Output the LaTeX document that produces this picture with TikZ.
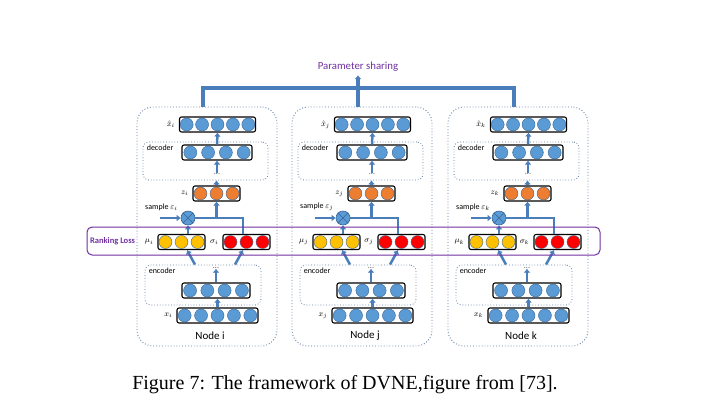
\documentclass[tikz,border=0pt]{standalone}
\usepackage{fontspec}
\newfontfamily\carlito{Carlito}
\newfontfamily\timesfont{Liberation Serif}
\usepackage{tikz}
\usetikzlibrary{arrows.meta,calc,positioning,shapes}
\definecolor{flowblue}{RGB}{74,126,187}
\definecolor{ublue}{RGB}{91,155,213}
\definecolor{unitline}{RGB}{55,100,150}
\definecolor{uorange}{RGB}{237,125,49}
\definecolor{uyellow}{RGB}{255,192,0}
\definecolor{ured}{RGB}{255,0,0}
\definecolor{purp}{RGB}{112,48,160}
\definecolor{boxline}{RGB}{95,125,165}
\tikzstyle{layer} = [rectangle,draw=black,rounded corners=2,line width=1.1,minimum height=15,inner sep=0]
\tikzstyle{unit} = [circle,draw=unitline,line width=0.4,minimum size=13,inner sep=0]
\tikzstyle{part} = [rectangle,draw=boxline,dotted,rounded corners=6,line width=0.8]
\tikzstyle{nodebox} = [rectangle,draw=boxline,dotted,rounded corners=16,line width=0.9]
\tikzstyle{lab} = [font=\carlito\fontsize{8}{9}\selectfont,inner sep=1]
\tikzstyle{dots} = [font=\carlito\fontsize{8}{8}\selectfont,inner sep=0,text=black!70]
\tikzstyle{flow} = [draw=flowblue,line width=2.5]
\tikzstyle{share} = [draw=flowblue,line width=3.5]
\tikzstyle{mul} = [circle,fill=ublue,draw=unitline,line width=0.6,minimum size=14,inner sep=0]
% circles of one layer, spread over the box
\newcommand{\units}[3]{\foreach \u in {1,...,#2}
  \node[unit,fill=#3] (#1-\u) at ($(#1.west)!{(\u-0.5)/#2}!(#1.east)$) {};}

\begin{document}
\begin{tikzpicture}[x=1pt,y=-1pt,>={Latex[length=4pt,width=7pt]}]
  \useasboundingbox (0,0) rectangle (717,402);
  \foreach \n/\x in {i/137,j/292,k/448}{
    \begin{scope}[xshift=\x]
      \node[nodebox,minimum width=140,minimum height=239] (col\n) at (70,226.5) {};
      \coordinate (ps\n) at (66,88);
      % decoder side
      \node[layer,minimum width=76] (xh\n) at (80.5,124.5) {};
      \node[lab,left=3pt of xh\n] (xhl\n) {$\hat{x}_\n$};
      \node[part,minimum width=125,minimum height=38] (dec\n) at (68.5,161) {};
      \node[lab,anchor=north west] (decl\n) at ([shift={(3pt,-2pt)}]dec\n.north west) {decoder};
      \node[layer,minimum width=70] (decin\n) at (80,152.5) {};
      \node[dots] (ddots\n) at (80,174) {...};
      \node[layer,minimum width=47] (z\n) at (79.5,193.5) {};
      \node[lab,left=3pt of z\n] (zl\n) {$z_\n$};
      % sampling
      \node[mul] (mul\n) at (51,218) {};
      \coordinate (in\n) at (23,218);
      \node[lab,anchor=west] (smp\n) at (7,207) {sample $\varepsilon_\n$};
      \node[layer,minimum width=47] (mu\n) at (44.5,242) {};
      \node[lab,left=3pt of mu\n] (mul\n l) {$\mu_\n$};
      \node[layer,minimum width=47] (sig\n) at (109.5,242) {};
      \node[lab,left=3pt of sig\n] (sigl\n) {$\sigma_\n$};
      % encoder side
      \node[part,minimum width=116,minimum height=40] (enc\n) at (66,285) {};
      \node[lab,anchor=north west] (encl\n) at ([shift={(3pt,-2pt)}]enc\n.north west) {encoder};
      \node[dots] (edots\n) at (79,268) {...};
      \node[layer,minimum width=68] (encin\n) at (79,290.5) {};
      \node[layer,minimum width=81] (x\n) at (80.5,315.5) {};
      \node[lab,left=3pt of x\n] (xl\n) {$x_\n$};
      \node[font=\carlito\fontsize{11}{13}\selectfont] (name\n) at (73,336) {Node \n};
      \units{xh\n}{5}{ublue}
      \units{decin\n}{4}{ublue}
      \units{z\n}{3}{uorange}
      \units{mu\n}{3}{uyellow}
      \units{sig\n}{3}{ured}
      \units{encin\n}{4}{ublue}
      \units{x\n}{5}{ublue}
      % flow
      \draw[flow,->] (x\n.north) -- (x\n.north |- encin\n.south);
      \draw[flow,->] (encin\n.north) -- (edots\n);
      \draw[flow,->] ([xshift=-8pt]enc\n.north) -- ([xshift=5.5pt]mu\n.south);
      \draw[flow,->] ([xshift=32pt]enc\n.north) -- ([xshift=-3.5pt]sig\n.south);
      \draw[flow,->] (in\n) -- (mul\n);
      \draw[flow,->] (mu\n.north -| mul\n) -- (mul\n);
      \draw[flow] (mul\n.east) -| ([xshift=-3.5pt]sig\n.north);
      \draw[flow,->] (z\n |- mul\n) -- (z\n.south);
      \draw[unitline,line width=0.6] (mul\n.north east) -- (mul\n.south west)
        (mul\n.north west) -- (mul\n.south east);
      \draw[flow,->] (z\n.north) -- (z\n.north |- dec\n.south);
      \draw[flow,->] (ddots\n.north) -- (decin\n.south);
      \draw[flow,->] (decin\n.north) -- (xh\n.south);
    \end{scope}
  }
  \node[font=\carlito\fontsize{10.8}{12}\selectfont,text=purp] (sharing) at (358,67) {Parameter sharing};
  \draw[share] (coli.north -| psi) |- (psj) -| (colk.north -| psk);
  \draw[share] (colj.north -| psj) -- (psj);
  \draw[share,->] (psj) -- (sharing);
  \node[draw=purp,rounded corners=5,line width=1,minimum width=513,minimum height=28] (rank) at (343.5,241) {};
  \node[font=\carlito\bfseries\fontsize{8.5}{9}\selectfont,text=purp,anchor=west] (rankl) at (rank.west) {Ranking Loss};
  \node[font=\timesfont\fontsize{20}{24}\selectfont] (cap) at (345,385) {Figure 7: The framework of DVNE,figure from [73].};
\end{tikzpicture}
\end{document}
